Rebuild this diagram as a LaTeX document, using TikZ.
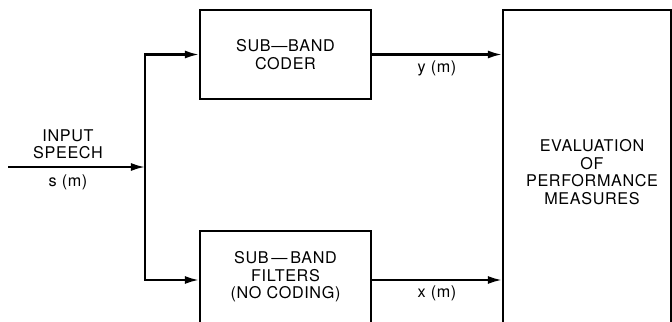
\documentclass[tikz,border=0pt]{standalone}
\usepackage{fontspec}
\setmainfont{TeX Gyre Heros}[LetterSpace=4]
\usetikzlibrary{arrows.meta,positioning}

\begin{document}
\begin{tikzpicture}[x=0.025cm,y=-0.025cm,line width=1.5pt,>={Latex[length=3.5mm,width=2mm]},
  block/.style={draw,align=center,inner sep=0pt},
  lbl/.style={font=\fontsize{11.5}{12.4}\selectfont,align=center}]
  \clip (0,0) rectangle (672,322);
  % blocks
  \node[block,lbl,minimum width=4.275cm,minimum height=2.225cm] (coder) at (285.5,54.5) {SUB---BAND\\CODER};
  \node[block,minimum width=4.275cm,minimum height=2.45cm] (filt) at (285.5,280) {};
  \node[lbl] (filttxt) at (285.5,277) {SUB\,---\,BAND\\FILTERS\\(NO CODING)};
  \node[block,minimum width=4.2cm,minimum height=8cm] (eval) at (587,170) {};
  \node[lbl] (evaltxt) at (592,172) {EVALUATION\\OF\\PERFORMANCE\\MEASURES};
  % input and split
  \coordinate (in) at (8,167);
  \coordinate (split) at (145,167);
  \draw[->] (in) -- (split);
  \node[lbl,above] (inlbl) at (68,165) {INPUT\\SPEECH};
  \node[lbl,below] (slbl) at (68,169) {s (m)};
  \draw[->] (split) |- (coder);
  \draw[->] (split) |- (filt);
  % outputs
  \draw[->] (coder.east) -- (coder.east -| eval.west) node[lbl,midway,below] (ylbl) {y (m)};
  \draw[->] (filt.east) -- (filt.east -| eval.west) node[lbl,midway,below] (xlbl) {x (m)};
\end{tikzpicture}
\end{document}
